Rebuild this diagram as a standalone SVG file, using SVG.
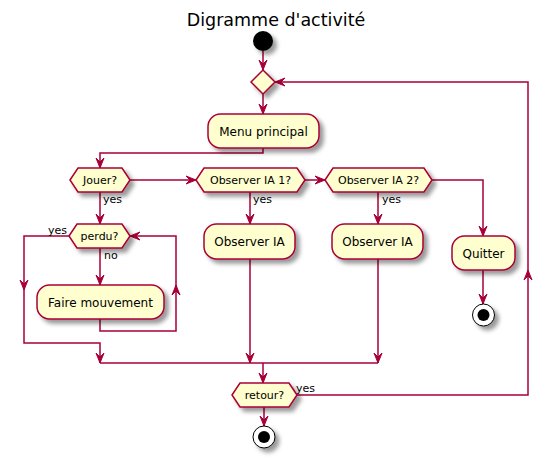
<svg xmlns="http://www.w3.org/2000/svg" width="552" height="457" viewBox="0 0 552 457">
<defs>
<filter id="sh" x="-1" y="-1" width="300%" height="300%">
<feGaussianBlur stdDeviation="2" result="b"/>
<feColorMatrix in="b" type="matrix" values="0 0 0 0 0  0 0 0 0 0  0 0 0 0 0  0 0 0 .4 0" result="b2"/>
<feOffset in="b2" dx="4" dy="4" result="b3"/>
<feBlend in="SourceGraphic" in2="b3" mode="normal"/>
</filter>
</defs>
<style>
.box{fill:#FEFECE;stroke:#A80036;stroke-width:1.5;filter:url(#sh)}
.ln{fill:none;stroke:#A80036;stroke-width:1.5}
.ah{fill:#A80036;stroke:#A80036;stroke-width:1}
text{font-family:"DejaVu Sans",sans-serif;fill:#000}
.t12{font-size:12px;text-anchor:middle}
.t11{font-size:11px;text-anchor:middle}
.lb{font-size:11px}
</style>
<rect width="552" height="457" fill="#fff"/>
<text x="276" y="26" style="font-size:17.5px" text-anchor="middle">Digramme d'activité</text>

<g id="connectors">
<path class="ln" d="M263,51 V70"/>
<path class="ln" d="M263,94 V114"/>
<path class="ln" d="M263,148 V153 H100 V168"/>
<path class="ln" d="M130,180 H196"/>
<path class="ln" d="M305,180 H325"/>
<path class="ln" d="M432,180 H483 V236"/>
<path class="ln" d="M483,270 V304"/>
<path class="ln" d="M100,192 V224"/>
<path class="ln" d="M69,236 H24 V343 H100 V363"/>
<path class="ln" d="M100,248 V285"/>
<path class="ln" d="M100,319 V331 H176 V236 H130"/>
<path class="ln" d="M250,192 V224"/>
<path class="ln" d="M250,259 V363"/>
<path class="ln" d="M378,192 V224"/>
<path class="ln" d="M378,259 V363"/>
<path class="ln" d="M100,363 H378"/>
<path class="ln" d="M263,363 V383"/>
<path class="ln" d="M297,395 H528 V82 H275"/>
<path class="ln" d="M264,407 V426"/>
<polygon class="ah" points="259,60 263,70 267,60 263,64"/>
<polygon class="ah" points="259,104 263,114 267,104 263,108"/>
<polygon class="ah" points="96,158 100,168 104,158 100,162"/>
<polygon class="ah" points="479,226 483,236 487,226 483,230"/>
<polygon class="ah" points="479,294 483,304 487,294 483,298"/>
<polygon class="ah" points="96,214 100,224 104,214 100,218"/>
<polygon class="ah" points="20,280 24,290 28,280 24,284"/>
<polygon class="ah" points="96,275 100,285 104,275 100,279"/>
<polygon class="ah" points="246,214 250,224 254,214 250,218"/>
<polygon class="ah" points="374,214 378,224 382,214 378,218"/>
<polygon class="ah" points="96,353 100,363 104,353 100,357"/>
<polygon class="ah" points="246,353 250,363 254,353 250,357"/>
<polygon class="ah" points="374,353 378,363 382,353 378,357"/>
<polygon class="ah" points="259,373 263,383 267,373 263,377"/>
<polygon class="ah" points="260,416 264,426 268,416 264,420"/>
<polygon class="ah" points="186,176 196,180 186,184 190,180"/>
<polygon class="ah" points="315,176 325,180 315,184 319,180"/>
<polygon class="ah" points="140,232 130,236 140,240 136,236"/>
<polygon class="ah" points="285,78 275,82 285,86 281,82"/>
<polygon class="ah" points="172,295 176,285 180,295 176,291"/>
<polygon class="ah" points="524,280 528,270 532,280 528,276"/>
<text class="lb" x="103" y="203">yes</text>
<text class="lb" x="48" y="234">yes</text>
<text class="lb" x="104" y="259">no</text>
<text class="lb" x="253" y="203">yes</text>
<text class="lb" x="382" y="203">yes</text>
<text class="lb" x="296" y="392">yes</text>
</g>

<g id="start"><circle cx="263" cy="41" r="10" fill="#000" style="filter:url(#sh)"/></g>
<g id="merge"><polygon class="box" points="263,70 275,82 263,94 251,82"/></g>
<g id="menu"><rect class="box" x="208" y="114" width="111" height="34" rx="12.5"/><text class="t12" x="263.5" y="135.5">Menu principal</text></g>
<g id="jouer"><polygon class="box" points="70,180 78,168 122,168 130,180 122,192 78,192"/><text class="t11" x="100" y="184">Jouer?</text></g>
<g id="obs1q"><polygon class="box" points="196,180 204,168 297,168 305,180 297,192 204,192"/><text class="t11" x="250.5" y="184">Observer IA 1?</text></g>
<g id="obs2q"><polygon class="box" points="325,180 333,168 424,168 432,180 424,192 333,192"/><text class="t11" x="378.5" y="184">Observer IA 2?</text></g>
<g id="quitter"><rect class="box" x="452" y="236" width="63" height="34" rx="12.5"/><text class="t12" x="483.5" y="257.5">Quitter</text></g>
<g id="stop1"><circle cx="483.5" cy="315" r="11" fill="#fff" stroke="#000" stroke-width="1" style="filter:url(#sh)"/><circle cx="483.5" cy="315" r="6" fill="#000"/></g>
<g id="perdu"><polygon class="box" points="69,236 77,224 122,224 130,236 122,248 77,248"/><text class="t11" x="99.5" y="240">perdu?</text></g>
<g id="faire"><rect class="box" x="37" y="285" width="127" height="34" rx="12.5"/><text class="t12" x="100.5" y="306.5">Faire mouvement</text></g>
<g id="obs1"><rect class="box" x="204" y="224" width="91" height="35" rx="12.5"/><text class="t12" x="249.5" y="246">Observer IA</text></g>
<g id="obs2"><rect class="box" x="332" y="224" width="91" height="35" rx="12.5"/><text class="t12" x="377.5" y="246">Observer IA</text></g>
<g id="retour"><polygon class="box" points="232,395 240,383 289,383 297,395 289,407 240,407"/><text class="t11" x="264.5" y="399">retour?</text></g>
<g id="stop2"><circle cx="264" cy="437" r="11" fill="#fff" stroke="#000" stroke-width="1" style="filter:url(#sh)"/><circle cx="264" cy="437" r="6" fill="#000"/></g>
</svg>
